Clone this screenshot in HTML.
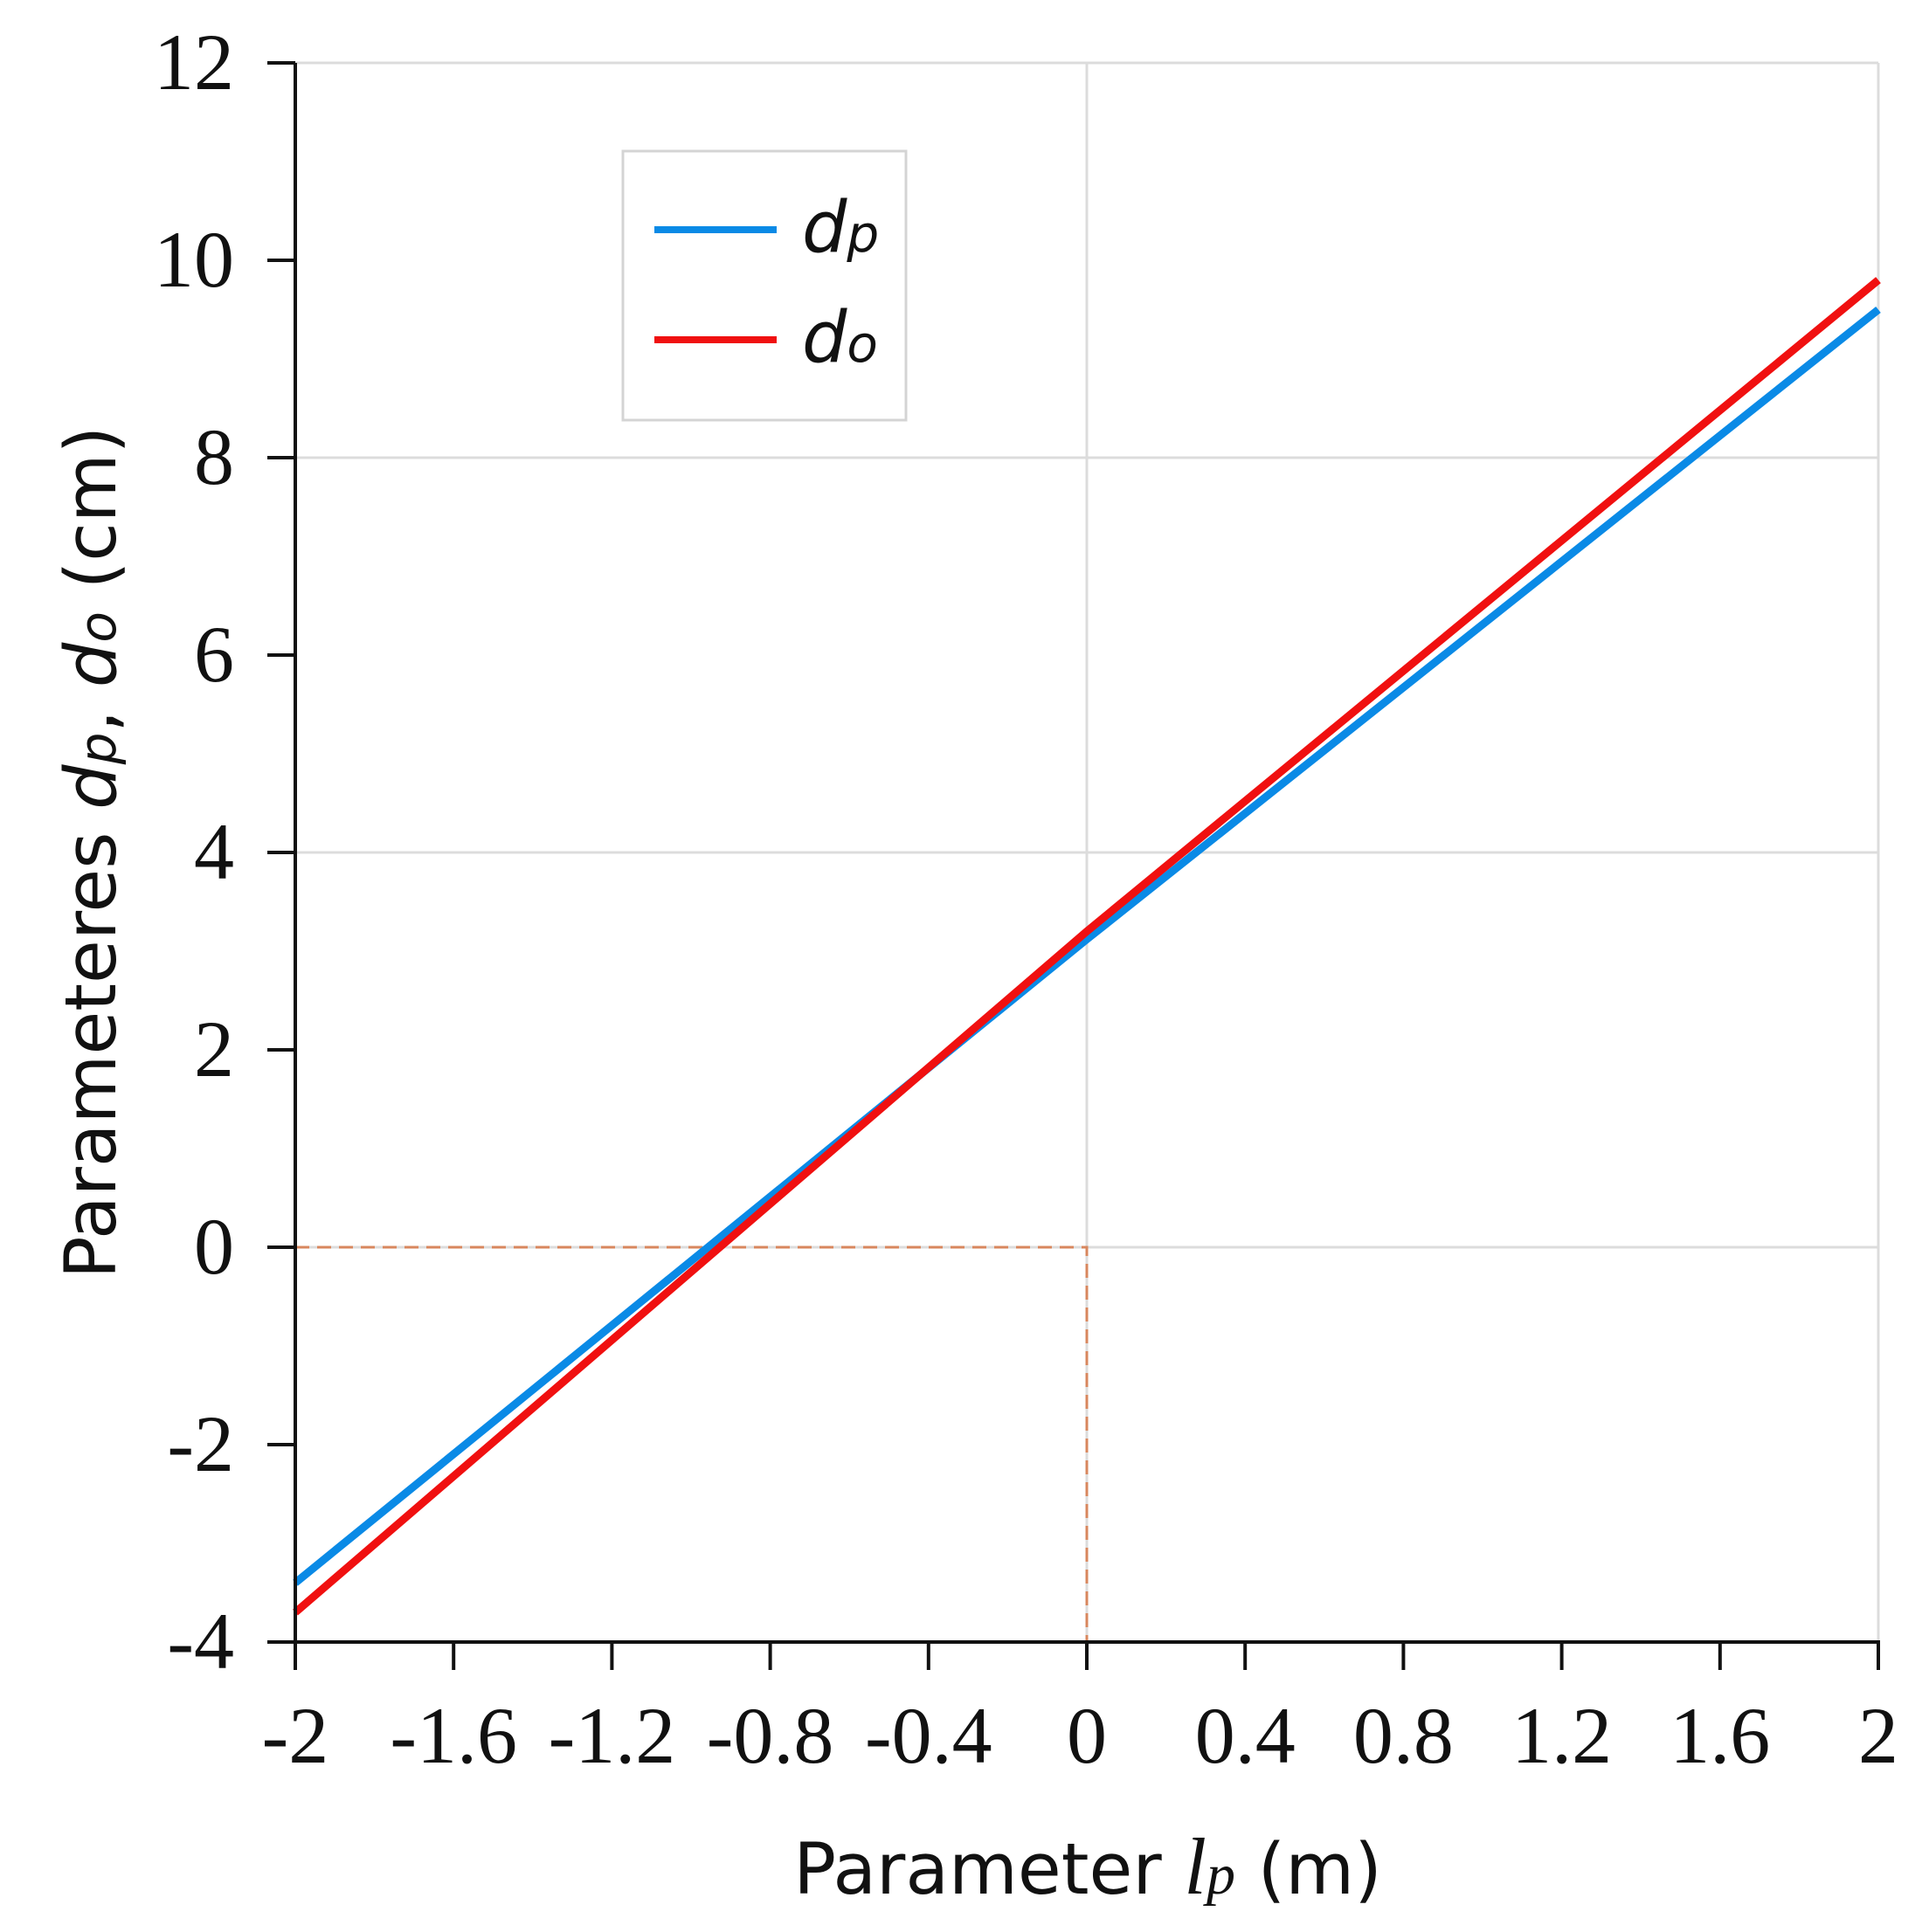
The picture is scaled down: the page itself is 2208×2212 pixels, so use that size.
<!DOCTYPE html>
<html><head><meta charset="utf-8"><style>
html,body{margin:0;padding:0;background:#fff}
svg{display:block}
.tk{font-family:"Liberation Serif","Times New Roman",serif;font-size:92px;fill:#111}
.ti{font-family:"DejaVu Sans","Liberation Sans",sans-serif;font-size:81px;fill:#111}
</style></head><body>
<svg id="chart" width="2208" height="2212" viewBox="0 0 2208 2212" xmlns="http://www.w3.org/2000/svg">
<g id="grid"></g>
<g id="ref"></g>
<g id="series"></g>
<g id="axes"></g>
<text class="ti" x="1245" y="2168" text-anchor="middle">Parameter <tspan font-family="Liberation Serif,serif" font-style="italic" font-size="92">l</tspan><tspan font-family="Liberation Serif,serif" font-style="italic" font-size="66">p</tspan> (m)</text>
<text class="ti" transform="translate(132,976) rotate(-90)" text-anchor="middle">Parameteres <tspan font-style="italic">d</tspan><tspan font-style="italic" font-size="58">p</tspan>, <tspan font-style="italic">d</tspan><tspan font-style="italic" font-size="58">o</tspan> (cm)</text>
<g>
<rect x="713" y="173" width="324" height="308" fill="#fff" stroke="#d4d4d4" stroke-width="3"/>
<line x1="749" y1="263" x2="889" y2="263" stroke="#0a8ae6" stroke-width="8"/>
<text class="ti" x="918" y="288" font-style="italic">d<tspan font-size="58">p</tspan></text>
<line x1="749" y1="389" x2="889" y2="389" stroke="#f01010" stroke-width="8"/>
<text class="ti" x="918" y="414" font-style="italic">d<tspan font-size="58">o</tspan></text>
</g>
</svg>
<script>
const xVals=[-2,0,2];
const dpVals=[-3.4,3.12,9.5];
const doVals=[-3.7,3.2,9.8];
const xTicks=["-2","-1.6","-1.2","-0.8","-0.4","0","0.4","0.8","1.2","1.6","2"];
const yTicks=["-4","-2","0","2","4","6","8","10","12"];
const yGrid=[0,4,8,12];
const xGrid=[0,2];
const NS="http://www.w3.org/2000/svg";
const X=v=>338+(v+2)/4*1812;
const Y=v=>1880-(v+4)/16*1808;
function mk(p,t,a){const e=document.createElementNS(NS,t);for(const k in a)e.setAttribute(k,a[k]);p.appendChild(e);return e;}
const grid=document.getElementById('grid'),axes=document.getElementById('axes'),series=document.getElementById('series'),ref=document.getElementById('ref');
yGrid.forEach(v=>{const l=mk(grid,'line',{x1:338,x2:2150,y1:Y(v),y2:Y(v),stroke:'#dcdcdc','stroke-width':3});

});
xGrid.forEach(v=>{const l=mk(grid,'line',{x1:X(v),x2:X(v),y1:Y(12),y2:Y(-4),stroke:'#dcdcdc','stroke-width':3});

});
const dash=mk(ref,'polyline',{points:`${X(-2)},${Y(0)} ${X(0)},${Y(0)} ${X(0)},${Y(-4)}`,fill:'none',stroke:'#d8875e','stroke-width':3,'stroke-dasharray':'16 9'});


function line(vals,col,name){const p=mk(series,'polyline',{points:xVals.map((x,i)=>X(x)+','+Y(vals[i])).join(' '),fill:'none',stroke:col,'stroke-width':9});

}
line(dpVals,'#0a8ae6','series-dp');
line(doVals,'#f01010','series-do');
const ya=mk(axes,'line',{x1:338,x2:338,y1:Y(12),y2:Y(-4)+2,stroke:'#111','stroke-width':4});


const xa=mk(axes,'line',{x1:336,x2:2152,y1:Y(-4),y2:Y(-4),stroke:'#111','stroke-width':4});


yTicks.forEach(t=>{const v=+t;const l=mk(axes,'line',{x1:306,x2:338,y1:Y(v),y2:Y(v),stroke:'#111','stroke-width':4});


const tx=mk(axes,'text',{x:268,y:Y(v)+30,'text-anchor':'end',class:'tk'});tx.textContent=t;

});
xTicks.forEach(t=>{const v=+t;const l=mk(axes,'line',{x1:X(v),x2:X(v),y1:Y(-4),y2:Y(-4)+32,stroke:'#111','stroke-width':4});


const tx=mk(axes,'text',{x:X(v),y:2018,'text-anchor':'middle',class:'tk'});tx.textContent=t;

});
</script>
</body></html>
